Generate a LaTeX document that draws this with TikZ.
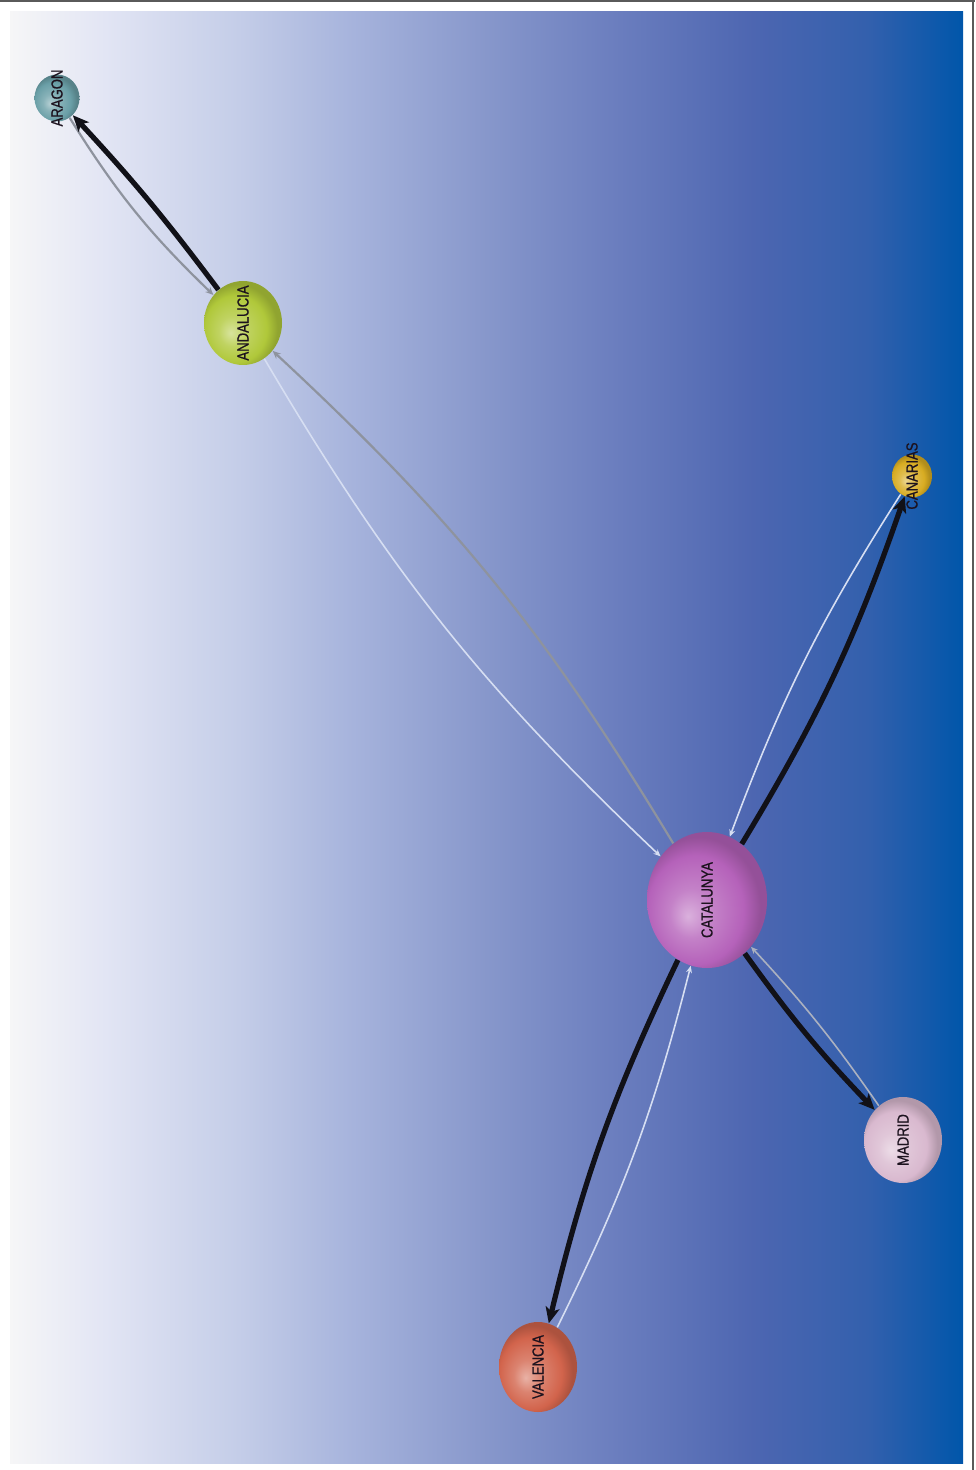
\documentclass[tikz,border=0pt]{standalone}
\usepackage{fontspec}
\setmainfont{Liberation Sans}
\newfontfamily\lblfont[FakeBold=0.8]{Liberation Sans}
\usetikzlibrary{shapes.geometric,arrows.meta}
\definecolor{bgA}{HTML}{F6F6F7}
\definecolor{bgB}{HTML}{E2E5F4}
\definecolor{bgC}{HTML}{C4CDE8}
\definecolor{bgD}{HTML}{A6B3DC}
\definecolor{bgE}{HTML}{8797CB}
\definecolor{bgF}{HTML}{6A7DBE}
\definecolor{bgG}{HTML}{4D66B1}
\definecolor{bgH}{HTML}{3360AD}
\definecolor{bgI}{HTML}{0056AA}
\definecolor{labeltext}{HTML}{1C121E}
\definecolor{heavyc}{HTML}{111118}
\definecolor{grayc}{HTML}{8E939E}
\definecolor{palec}{HTML}{D6DEF2}
\definecolor{framec}{HTML}{5A5A5A}
\definecolor{aracol}{HTML}{6A9FA7}
\definecolor{andcol}{HTML}{B0C83A}
\definecolor{cancol}{HTML}{D8AC22}
\definecolor{catcol}{HTML}{B562BA}
\definecolor{madcol}{HTML}{D9B9CF}
\definecolor{valcol}{HTML}{D2644C}
\colorlet{orbcol}{red}
\pgfdeclarehorizontalshading{bgshade}{100bp}{color(0bp)=(bgA); color(25bp)=(bgA); color(30bp)=(bgB); color(37bp)=(bgC); color(43bp)=(bgD); color(50bp)=(bgE); color(57bp)=(bgF); color(64bp)=(bgG); color(70bp)=(bgH); color(75bp)=(bgI); color(100bp)=(bgI)}
\pgfdeclareradialshading[orbcol]{orb}{\pgfqpoint{-8bp}{-6bp}}{color(0bp)=(orbcol!50!white); color(9bp)=(orbcol!80!white); color(20bp)=(orbcol); color(24bp)=(orbcol!88!black); color(26bp)=(orbcol!82!black); color(50bp)=(orbcol!82!black)}
\tikzset{
  orbnode/.style={ellipse, draw=none, inner sep=0pt, /utils/exec={\colorlet{orbcol}{#1}}, shading=orb},
  orblabel/.style={rotate=90, inner sep=0pt, text=labeltext, font=\lblfont\fontsize{8}{8}\selectfont, xscale=0.82},
  heavyedge/.style={draw=heavyc, line width=2.6pt, -{Stealth[length=8pt,width=7pt,inset=2pt]}},
  grayedge/.style={draw=grayc, line width=1.1pt, -{Stealth[length=4pt,width=3.5pt]}},
  paleedge/.style={draw=palec, line width=0.8pt, -{Stealth[length=3.5pt,width=3pt]}},
}
\begin{document}
\begin{tikzpicture}[x=0.5pt,y=0.5pt]
\path[use as bounding box] (0,0) rectangle (975,-1470);
\fill[white] (0,0) rectangle (975,-1470);
\shade[shading=bgshade] (10,-12) rectangle (963,-1463);
\draw[framec, line width=1pt] (0,-1) -- (975,-1);
\draw[framec, line width=0.6pt] (973,0) -- (973,-1470);

\node[orbnode=aracol, minimum width=22.5pt, minimum height=23.5pt] (ara) at (57,-98) {};
\node[orbnode=andcol, minimum width=39pt, minimum height=42pt] (and) at (243,-323) {};
\node[orbnode=cancol, minimum width=20pt, minimum height=21.5pt] (can) at (912,-476) {};
\node[orbnode=catcol, minimum width=60pt, minimum height=68pt] (cat) at (707,-900) {};
\node[orbnode=madcol, minimum width=39pt, minimum height=43pt] (mad) at (903,-1140) {};
\node[orbnode=valcol, minimum width=39pt, minimum height=45pt] (val) at (538,-1367) {};

\node[orblabel] (aratxt) at (ara.center) {ARAGON};
\node[orblabel] (andtxt) at (and.center) {ANDALUCIA};
\node[orblabel] (cantxt) at (can.center) {CANARIAS};
\node[orblabel] (cattxt) at (cat.center) {CATALUNYA};
\node[orblabel] (madtxt) at (mad.center) {MADRID};
\node[orblabel] (valtxt) at (val.center) {VALENCIA};

\draw[grayedge] (ara) to[bend right=7] (and);
\draw[heavyedge] (and) to[bend right=3] (ara);
\draw[grayedge] (cat) to[bend right=8] (and);
\draw[paleedge] (and) to[bend right=8] (cat);
\draw[heavyedge] (cat) to[bend right=6] (can);
\draw[paleedge] (can) to[bend right=6] (cat);
\draw[heavyedge] (cat) to[bend right=4] (mad);
\draw[paleedge, draw=grayc!60!palec] (mad) to[bend right=4] (cat);
\draw[heavyedge] (cat) to[bend right=6] (val);
\draw[paleedge] (val) to[bend right=6] (cat);
\end{tikzpicture}
\end{document}
